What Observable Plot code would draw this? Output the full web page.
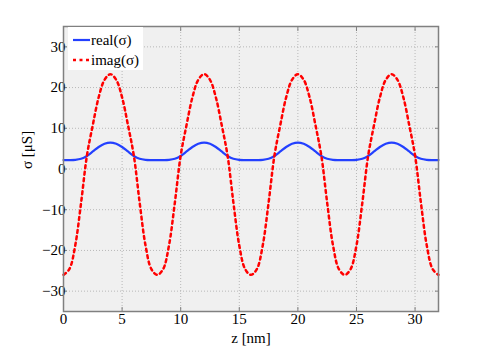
<!DOCTYPE html>
<html>
<head>
<meta charset="utf-8">
<script src="https://cdn.jsdelivr.net/npm/d3@7"></script>
<script src="https://cdn.jsdelivr.net/npm/@observablehq/plot@0.6"></script>
<style>
  html, body { margin: 0; padding: 0; background: #fff; }
  #wrap { position: relative; width: 485px; height: 350px; }
  #wrap svg text { font-family: "Liberation Serif", "Times New Roman", Times, "DejaVu Serif", serif !important; }
  #legend {
    position: absolute; left: 68px; top: 27px; width: 75px; height: 43px;
    background: #fff; font-family: "Liberation Serif", "Times New Roman", Times, "DejaVu Serif", serif; font-size: 15px; color: #000;
  }
  #legend .row { position: absolute; left: 5px; height: 20px; display: flex; align-items: center; }
  #legend svg { display: block; margin-right: 1px; }
</style>
</head>
<body>
<div id="wrap"></div>
<script>
// z positions (nm), sampled every 0.5 nm
const z = [0,0.5,1,1.5,2,2.5,3,3.5,4,4.5,5,5.5,6,6.5,7,7.5,
  8,8.5,9,9.5,10,10.5,11,11.5,12,12.5,13,13.5,14,14.5,15,15.5,
  16,16.5,17,17.5,18,18.5,19,19.5,20,20.5,21,21.5,22,22.5,23,23.5,
  24,24.5,25,25.5,26,26.5,27,27.5,28,28.5,29,29.5,30,30.5,31,31.5,32];

// real(σ) in µS
const realSigma = [2.2,2.2,2.25,2.5,3.2,4.3,5.4,6.2,6.5,6.2,5.4,4.3,3.2,2.5,2.25,2.2,
  2.2,2.2,2.25,2.5,3.2,4.3,5.4,6.2,6.5,6.2,5.4,4.3,3.2,2.5,2.25,2.2,
  2.2,2.2,2.25,2.5,3.2,4.3,5.4,6.2,6.5,6.2,5.4,4.3,3.2,2.5,2.25,2.2,
  2.2,2.2,2.25,2.5,3.2,4.3,5.4,6.2,6.5,6.2,5.4,4.3,3.2,2.5,2.25,2.2,
  2.2];

// imag(σ) in µS
const imagSigma = [-26,-24.6,-18.8,-8.3,3.3,10.8,17.6,21.9,23.3,21.9,17.6,10.8,3.3,-8.3,-18.8,-24.6,
  -26,-24.6,-18.8,-8.3,3.3,10.8,17.6,21.9,23.3,21.9,17.6,10.8,3.3,-8.3,-18.8,-24.6,
  -26,-24.6,-18.8,-8.3,3.3,10.8,17.6,21.9,23.3,21.9,17.6,10.8,3.3,-8.3,-18.8,-24.6,
  -26,-24.6,-18.8,-8.3,3.3,10.8,17.6,21.9,23.3,21.9,17.6,10.8,3.3,-8.3,-18.8,-24.6,
  -26];

const xTicks = [0,5,10,15,20,25,30];
const yTicks = [-30,-20,-10,0,10,20,30];
const seriesNames = ["real(σ)", "imag(σ)"];
const seriesColors = ["#2340ff", "#ff0000"];
const xLabel = "z [nm]";
const yLabel = "σ [μS]";

const realData = z.map((v, i) => ({z: v, s: realSigma[i]}));
const imagData = z.map((v, i) => ({z: v, s: imagSigma[i]}));

const serif = '"Liberation Serif", "Times New Roman", Times, "DejaVu Serif", serif';
const axisColor = "#808080";
const chart = Plot.plot({
  width: 485,
  height: 350,
  marginLeft: 63,
  marginRight: 47,
  marginTop: 26,
  marginBottom: 39,
  style: {fontFamily: serif, fontSize: "15px", color: "#000", background: "#fff"},
  x: {domain: [0, 32]},
  y: {domain: [-35, 35]},
  marks: [
    Plot.frame({fill: "#f0f0f0", stroke: null}),
    Plot.gridX(xTicks, {stroke: "#b8b8b8", strokeOpacity: 1, strokeDasharray: "1,2"}),
    Plot.gridY(yTicks, {stroke: "#b8b8b8", strokeOpacity: 1, strokeDasharray: "1,2"}),
    Plot.line(realData, {x: "z", y: "s", stroke: seriesColors[0], strokeWidth: 2.2, curve: "catmull-rom"}),
    Plot.line(imagData, {x: "z", y: "s", stroke: seriesColors[1], strokeWidth: 2.5, strokeDasharray: "3,3.5", curve: "catmull-rom"}),
    Plot.axisX(xTicks, {anchor: "bottom", tickSize: -4, tickPadding: 6, stroke: axisColor, label: null, fill: "#000", fontFamily: serif}),
    Plot.axisX(xTicks, {anchor: "top", tickSize: -4, tickFormat: () => "", stroke: axisColor, label: null}),
    Plot.axisY(yTicks, {anchor: "left", tickSize: -4, tickPadding: 2, stroke: axisColor, label: null, fontFamily: serif, tickFormat: d => d < 0 ? "\u2212" + Math.abs(d) : String(d)}),
    Plot.axisY(yTicks, {anchor: "right", tickSize: -4, tickFormat: () => "", stroke: axisColor, label: null}),
    Plot.frame({stroke: axisColor, strokeWidth: 1.5}),
    Plot.text([xLabel], {frameAnchor: "bottom", dy: 31, fontSize: 15, fill: "#000", fontFamily: serif}),
    Plot.text([yLabel], {frameAnchor: "left", dx: -36, rotate: -90, fontSize: 15, fill: "#000", fontFamily: serif})
  ]
});
const wrap = document.getElementById("wrap");
wrap.appendChild(chart);

const legend = document.createElement("div");
legend.id = "legend";
seriesNames.forEach((name, i) => {
  const row = document.createElement("div");
  row.className = "row";
  row.style.top = (i === 0 ? 3 : 23) + "px";
  const sw = `<svg width="17" height="6"><line x1="0" y1="3" x2="17" y2="3" stroke="${seriesColors[i]}" stroke-width="${i ? 2.5 : 2.2}" ${i ? 'stroke-dasharray="3,3.5"' : ''}/></svg>`;
  row.innerHTML = sw + `<span>${name}</span>`;
  legend.appendChild(row);
});
wrap.appendChild(legend);
</script>
</body>
</html>
